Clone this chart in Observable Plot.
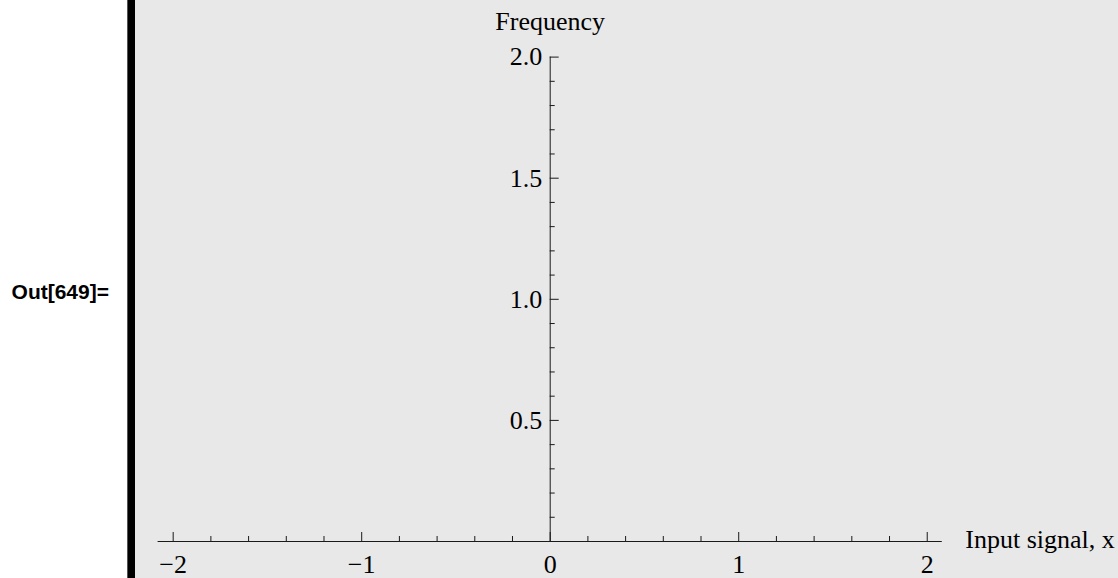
<!DOCTYPE html>
<html>
<head>
<meta charset="utf-8">
<script src="https://cdn.jsdelivr.net/npm/d3@7"></script>
<script src="https://cdn.jsdelivr.net/npm/@observablehq/plot@0.6"></script>
<style>
  html, body { margin: 0; padding: 0; background: #fff; }
  #page { position: relative; width: 1118px; height: 578px; overflow: hidden; }
  #out-label {
    position: absolute; left: 0; top: 281px; width: 109px;
    text-align: right; font: bold 21px/21px "Liberation Sans", Arial, sans-serif; color: #000;
  }
  #cell-bar {
    position: absolute; left: 127px; top: 0; width: 7px; height: 578px;
    background: #000; border-left: 1px solid #555;
  }
  #chart { position: absolute; left: 135px; top: 0; }
</style>
</head>
<body>
<div id="page">
  <div id="out-label">Out[649]=</div>
  <div id="cell-bar"></div>
  <div id="chart"></div>
</div>
<script>
// Axis extent
const xDomain = [-2.08, 2.08];
const yDomain = [0, 2];

// Tick positions and labels
const xMajorTicks = [-2, -1, 0, 1, 2];
const xTickLabels = ["−2", "−1", "0", "1", "2"];
const xMinorTicks = [-1.8, -1.6, -1.4, -1.2, -0.8, -0.6, -0.4, -0.2,
                     0.2, 0.4, 0.6, 0.8, 1.2, 1.4, 1.6, 1.8];
const yMajorTicks = [0.5, 1.0, 1.5, 2.0];
const yTickLabels = ["0.5", "1.0", "1.5", "2.0"];
const yMinorTicks = [0.1, 0.2, 0.3, 0.4, 0.6, 0.7, 0.8, 0.9,
                     1.1, 1.2, 1.3, 1.4, 1.6, 1.7, 1.8, 1.9];

// Axis titles
const xTitle = "Input signal, x";
const yTitle = "Frequency";

const ink = "#1a1a1a";
const fontSize = 26;

const chart = Plot.plot({
  width: 983,
  height: 578,
  marginLeft: 22.6,
  marginRight: 176.2,
  marginTop: 56.6,
  marginBottom: 37,
  style: { background: "#e8e8e8", fontFamily: "'Liberation Serif', 'Times New Roman', serif", color: "#000" },
  x: { domain: xDomain, axis: null },
  y: { domain: yDomain, axis: null },
  marks: [
    // axes crossing at the origin
    Plot.ruleY([0], { stroke: ink }),
    Plot.ruleX([0], { y1: () => yDomain[0], y2: () => yDomain[1], stroke: ink }),

    // x ticks, pointing up from the axis
    Plot.ruleX(xMajorTicks, { x: d => d, y1: () => 0, y2: () => 0, insetTop: -9, stroke: ink }),
    Plot.ruleX(xMinorTicks, { x: d => d, y1: () => 0, y2: () => 0, insetTop: -5, stroke: ink }),

    // y ticks, pointing right from the axis
    Plot.ruleY(yMajorTicks, { y: d => d, x1: () => 0, x2: () => 0, insetRight: -9, stroke: ink }),
    Plot.ruleY(yMinorTicks, { y: d => d, x1: () => 0, x2: () => 0, insetRight: -5, stroke: ink }),

    // tick labels
    Plot.text(xMajorTicks, {
      x: d => d, y: () => 0, text: (d, i) => xTickLabels[i],
      dy: 23, fontSize, fill: "#000"
    }),
    Plot.text(yMajorTicks, {
      x: () => 0, y: d => d, text: (d, i) => yTickLabels[i],
      textAnchor: "end", dx: -8, fontSize, fill: "#000"
    }),

    // axis titles
    Plot.text([yTitle], {
      x: () => 0, y: () => yDomain[1], text: d => d,
      lineAnchor: "bottom", dy: -27, fontSize, fill: "#000"
    }),
    Plot.text([xTitle], {
      frameAnchor: "right", y: () => 0, text: d => d,
      textAnchor: "start", dx: 23, dy: -2, fontSize, fill: "#000"
    })
  ]
});

document.getElementById("chart").append(chart);
</script>
</body>
</html>
